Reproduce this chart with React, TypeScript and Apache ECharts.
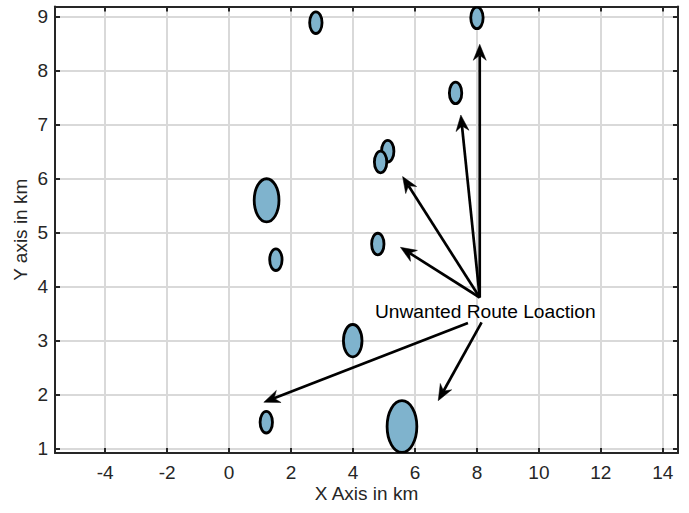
import React, { useEffect, useRef } from "react";
import * as echarts from "echarts";

// Obstacles (ellipses): centre and radius in km
const ellipseX = [2.8, 8.0, 7.31, 5.12, 4.89, 1.21, 1.51, 4.8, 3.99, 1.2, 5.58];
const ellipseY = [8.89, 8.98, 7.59, 6.51, 6.31, 5.6, 4.5, 4.79, 3.0, 1.49, 1.41];
const ellipseR = [0.2, 0.2, 0.2, 0.2, 0.2, 0.4, 0.2, 0.2, 0.3, 0.2, 0.48];

// Arrows (start -> tip) in km
const arrowStartX = [8.09, 8.09, 8.09, 8.09, 7.71, 8.15];
const arrowStartY = [3.8, 3.8, 3.8, 3.8, 3.33, 3.34];
const arrowEndX = [8.09, 7.48, 5.6, 5.53, 1.12, 6.75];
const arrowEndY = [8.49, 7.18, 6.04, 4.73, 1.86, 1.89];

// Annotation
const annotationText = "Unwanted Route Loaction";
const annotationPos = [8.27, 3.55];

// Axes
const xMin = -5.62;
const xMax = 14.49;
const yMin = 0.92;
const yMax = 9.19;
const xTicks = [-4, -2, 0, 2, 4, 6, 8, 10, 12, 14];
const yTicks = [1, 2, 3, 4, 5, 6, 7, 8, 9];
const xName = "X Axis in km";
const yName = "Y axis in km";

const FONT = "'Liberation Sans', Arial, Helvetica, sans-serif";
const AXIS_COLOR = "#262626";

export default function App() {
  const ref = useRef<HTMLDivElement>(null);

  useEffect(() => {
    if (!ref.current) return;
    const chart = echarts.init(ref.current, undefined, { renderer: "svg" });

    const ellipseData = ellipseX.map((x, i) => [x, ellipseY[i], ellipseR[i]]);
    const arrowData = arrowStartX.map((x, i) => [x, arrowStartY[i], arrowEndX[i], arrowEndY[i]]);

    const axisCommon = {
      type: "value" as const,
      axisLine: { show: true, onZero: false, lineStyle: { color: AXIS_COLOR, width: 2 } },
      axisTick: { show: true, inside: true, length: 5, lineStyle: { color: AXIS_COLOR, width: 2 } },
    };

    const option: any = {
      animation: false,
      grid: { left: 55, right: 11, top: 6.5, bottom: 60, containLabel: false },
      xAxis: [
        {
          ...axisCommon,
          position: "bottom",
          min: xMin,
          max: xMax,
          axisTick: { ...axisCommon.axisTick, customValues: xTicks },
          axisLabel: {
            customValues: xTicks,
            color: AXIS_COLOR,
            fontSize: 19,
            fontFamily: FONT,
            margin: 10,
          },
          splitLine: { show: true, lineStyle: { color: "#d9d9d9", width: 2 } },
          name: xName,
          nameLocation: "middle",
          nameMoveOverlap: false,
          nameGap: 31,
          nameTextStyle: { color: AXIS_COLOR, fontSize: 19, fontFamily: FONT },
        },
        {
          ...axisCommon,
          position: "top",
          min: xMin,
          max: xMax,
          axisTick: { ...axisCommon.axisTick, customValues: xTicks },
          axisLabel: { show: false },
          splitLine: { show: false },
        },
      ],
      yAxis: [
        {
          ...axisCommon,
          position: "left",
          min: yMin,
          max: yMax,
          axisTick: { ...axisCommon.axisTick, customValues: yTicks },
          axisLabel: {
            customValues: yTicks,
            color: AXIS_COLOR,
            fontSize: 19,
            fontFamily: FONT,
            margin: 7,
          },
          splitLine: { show: true, lineStyle: { color: "#d9d9d9", width: 2 } },
          name: yName,
          nameLocation: "middle",
          nameMoveOverlap: false,
          nameGap: 25,
          nameRotate: 90,
          nameTextStyle: { color: AXIS_COLOR, fontSize: 19, fontFamily: FONT },
        },
        {
          ...axisCommon,
          position: "right",
          min: yMin,
          max: yMax,
          axisTick: { ...axisCommon.axisTick, customValues: yTicks },
          axisLabel: { show: false },
          splitLine: { show: false },
        },
      ],
      series: [
        {
          type: "custom",
          name: "obstacles",
          xAxisIndex: 0,
          yAxisIndex: 0,
          clip: true,
          silent: true,
          data: ellipseData,
          renderItem: (params: any, api: any) => {
            const c = api.coord([api.value(0), api.value(1)]);
            const s = api.size([api.value(2), api.value(2)]);
            return {
              type: "ellipse",
              shape: { cx: c[0], cy: c[1], rx: s[0], ry: s[1] },
              style: { fill: "#7fb3cd", stroke: "#000000", lineWidth: 2.8 },
            };
          },
        },
        {
          type: "custom",
          name: "arrows",
          xAxisIndex: 0,
          yAxisIndex: 0,
          silent: true,
          data: arrowData,
          renderItem: (params: any, api: any) => {
            const p1 = api.coord([api.value(0), api.value(1)]);
            const p2 = api.coord([api.value(2), api.value(3)]);
            const dx = p2[0] - p1[0];
            const dy = p2[1] - p1[1];
            const len = Math.sqrt(dx * dx + dy * dy) || 1;
            const ux = dx / len;
            const uy = dy / len;
            const nx = -uy;
            const ny = ux;
            const L = 16;
            const W = 6.5;
            const notch = 11;
            const back = [p2[0] - ux * L, p2[1] - uy * L];
            const mid = [p2[0] - ux * notch, p2[1] - uy * notch];
            return {
              type: "group",
              children: [
                {
                  type: "line",
                  shape: { x1: p1[0], y1: p1[1], x2: mid[0], y2: mid[1] },
                  style: { stroke: "#000000", lineWidth: 2.7 },
                },
                {
                  type: "polygon",
                  shape: {
                    points: [
                      [p2[0], p2[1]],
                      [back[0] + nx * W, back[1] + ny * W],
                      [mid[0], mid[1]],
                      [back[0] - nx * W, back[1] - ny * W],
                    ],
                  },
                  style: { fill: "#000000", stroke: "#000000", lineWidth: 0.5 },
                },
              ],
            };
          },
        },
        {
          type: "custom",
          name: "annotation",
          xAxisIndex: 0,
          yAxisIndex: 0,
          silent: true,
          data: [[annotationPos[0], annotationPos[1]]],
          renderItem: (params: any, api: any) => {
            const c = api.coord([api.value(0), api.value(1)]);
            return {
              type: "text",
              x: c[0],
              y: c[1],
              style: {
                text: annotationText,
                fill: "#000000",
                fontSize: 19.2,
                fontFamily: FONT,
                align: "center",
                verticalAlign: "middle",
              },
            };
          },
        },
      ],
    };

    chart.setOption(option);
    return () => chart.dispose();
  }, []);

  return (
    <div
      ref={ref}
      style={{ position: "fixed", left: 0, top: 0, width: 689, height: 513, background: "#ffffff" }}
    />
  );
}
